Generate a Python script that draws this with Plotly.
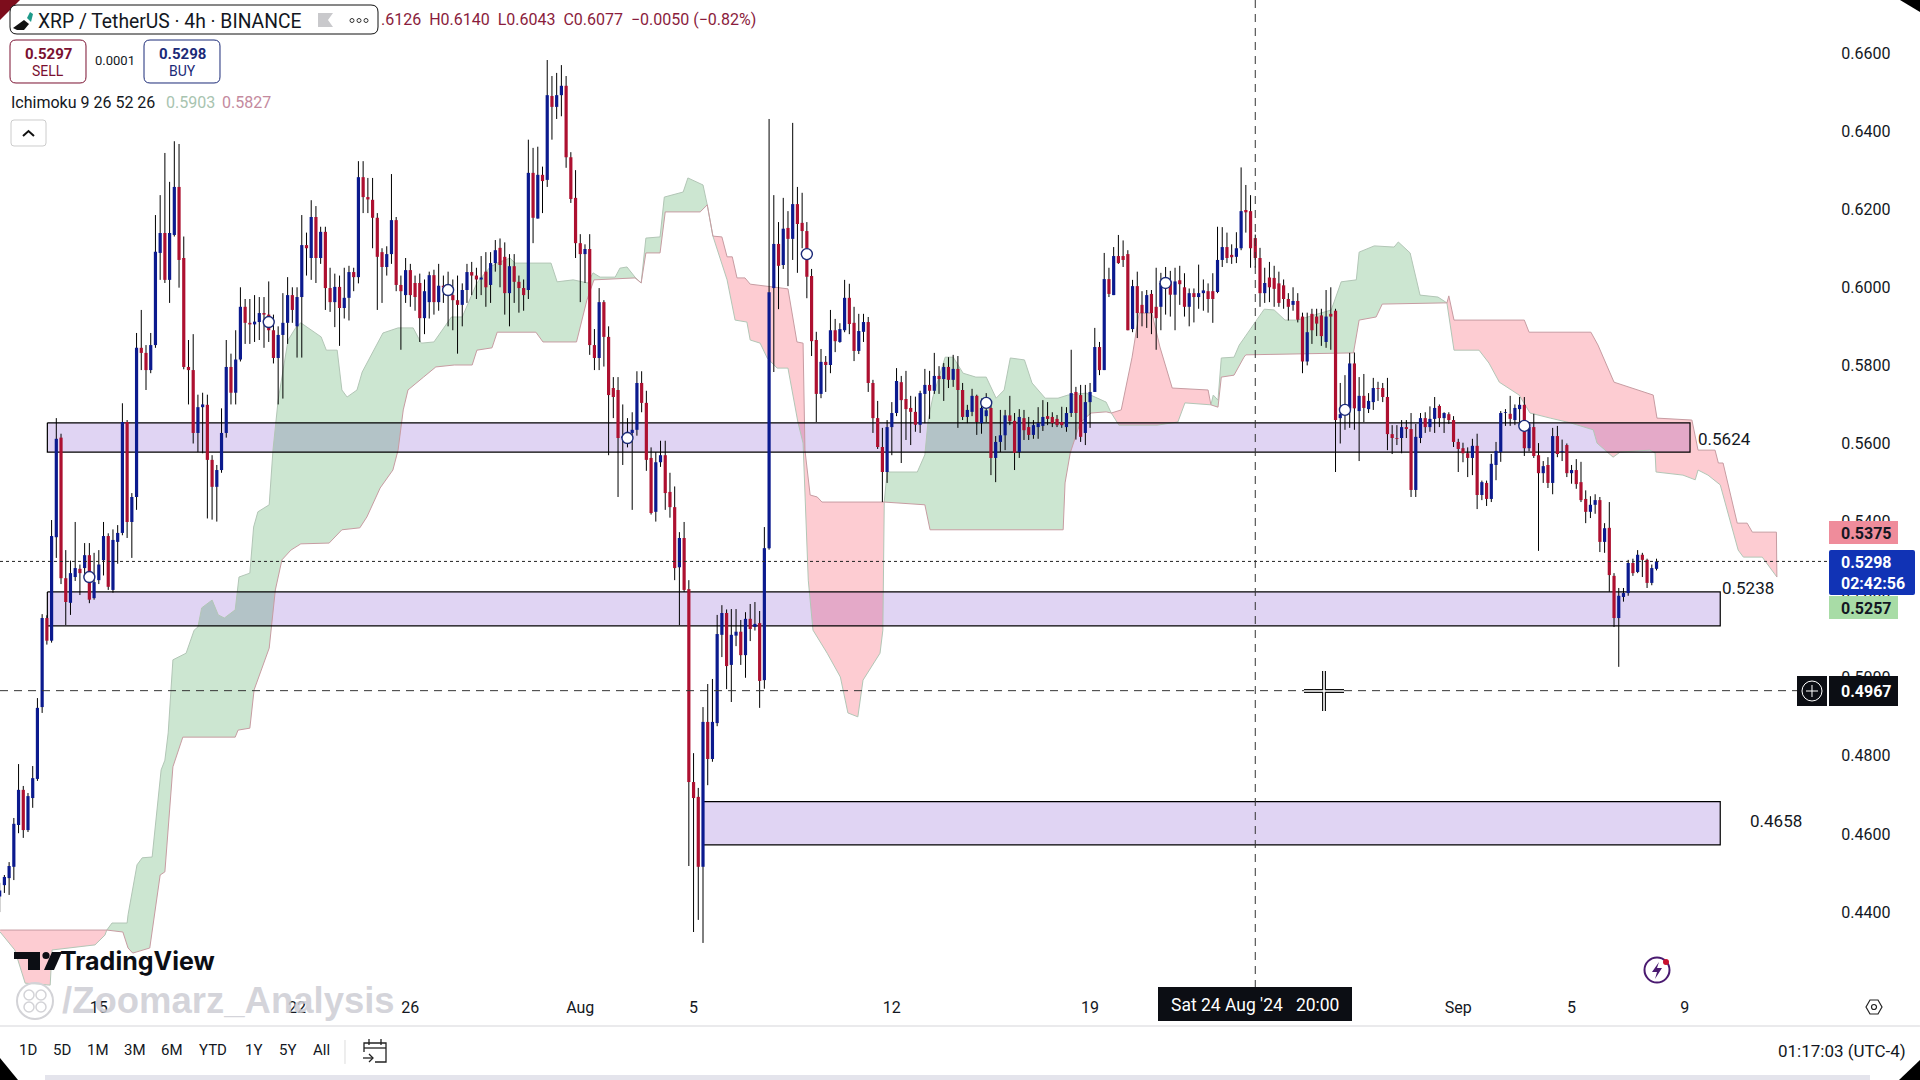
import pandas as pd
import plotly.graph_objects as go

# --- candles, 4h bars ---
first_bar = "2024-07-11 12:00"

open_prices = [
    0.4440,
    0.4469, 0.4487, 0.4516, 0.4623, 0.4713, 0.4610, 0.4692, 0.4741, 0.4925, 0.5153,
    0.5095, 0.5360, 0.5615, 0.5255, 0.5192, 0.5258, 0.5279, 0.5281, 0.5314, 0.5204,
    0.5250, 0.5301, 0.5363, 0.5225, 0.5348, 0.5371, 0.5655, 0.5399, 0.5463, 0.5845,
    0.5832, 0.5788, 0.5852, 0.6088, 0.6139, 0.6019, 0.6134, 0.6257, 0.6075, 0.5796,
    0.5788, 0.5627, 0.5693, 0.5699, 0.5558, 0.5489, 0.5532, 0.5627, 0.5796, 0.5730,
    0.5815, 0.5950, 0.5909, 0.5905, 0.5911, 0.5934, 0.5930, 0.5890, 0.5819, 0.5878,
    0.5909, 0.5980, 0.5900, 0.5975, 0.6108, 0.6075, 0.6180, 0.6075, 0.6142, 0.5998,
    0.5962, 0.6001, 0.5947, 0.5973, 0.6039, 0.6026, 0.6282, 0.6231, 0.6224, 0.6178,
    0.6090, 0.6052, 0.6085, 0.6172, 0.6006, 0.5980, 0.6044, 0.6011, 0.6011, 0.5921,
    0.5962, 0.6031, 0.5962, 0.6004, 0.6000, 0.5980, 0.5967, 0.5955, 0.5993, 0.6039,
    0.6030, 0.6020, 0.6040, 0.6006, 0.6062, 0.6101, 0.6078, 0.5985, 0.6054, 0.6014,
    0.5998, 0.5993, 0.6293, 0.6176, 0.6288, 0.6275, 0.6490, 0.6462, 0.6492, 0.6516,
    0.6333, 0.6229, 0.6113, 0.6085, 0.6098, 0.5852, 0.5819, 0.5962, 0.5873, 0.5742,
    0.5737, 0.5614, 0.5618, 0.5627, 0.5635, 0.5755, 0.5704, 0.5563, 0.5425, 0.5552,
    0.5570, 0.5476, 0.5437, 0.5283, 0.5358, 0.5227, 0.4733, 0.4695, 0.4516, 0.4887,
    0.4792, 0.4884, 0.5110, 0.5166, 0.5033, 0.5108, 0.5118, 0.5058, 0.5151, 0.5130,
    0.5140, 0.4994, 0.5332, 0.5998, 0.6111, 0.6057, 0.6152, 0.6124, 0.6213, 0.6165,
    0.6144, 0.6029, 0.5865, 0.5727, 0.5809, 0.5801, 0.5890, 0.5860, 0.5890, 0.5973,
    0.5909, 0.5837, 0.5886, 0.5911, 0.5755, 0.5665, 0.5591, 0.5527, 0.5642, 0.5678,
    0.5757, 0.5714, 0.5691, 0.5681, 0.5648, 0.5727, 0.5750, 0.5735, 0.5773, 0.5765,
    0.5796, 0.5763, 0.5791, 0.5737, 0.5668, 0.5681, 0.5722, 0.5652, 0.5670, 0.5691,
    0.5563, 0.5604, 0.5621, 0.5672, 0.5658, 0.5578, 0.5665, 0.5642, 0.5622, 0.5642,
    0.5645, 0.5670, 0.5668, 0.5663, 0.5655, 0.5642, 0.5678, 0.5732, 0.5724, 0.5627,
    0.5706, 0.5732, 0.5847, 0.5788, 0.6021, 0.5980, 0.6080, 0.6080, 0.6085, 0.5893,
    0.6003, 0.5955, 0.5934, 0.5983, 0.5950, 0.5950, 0.6000, 0.6015, 0.5981, 0.6018,
    0.6000, 0.5950, 0.5985, 0.5975, 0.5985, 0.5990, 0.5990, 0.5988, 0.6070, 0.6103,
    0.6083, 0.6078, 0.6100, 0.6198, 0.6195, 0.6126, 0.6075, 0.5985, 0.6025, 0.6024,
    0.6010, 0.6005, 0.5970, 0.5955, 0.5965, 0.5925, 0.5810, 0.5932, 0.5925, 0.5928,
    0.5860, 0.5932, 0.5940, 0.5665, 0.5680, 0.5690, 0.5805, 0.5683, 0.5722, 0.5688,
    0.5706, 0.5742, 0.5742, 0.5719, 0.5624, 0.5614, 0.5614, 0.5642, 0.5637, 0.5481,
    0.5614, 0.5665, 0.5642, 0.5663, 0.5696, 0.5665, 0.5675, 0.5660, 0.5604, 0.5588,
    0.5575, 0.5563, 0.5594, 0.5468, 0.5499, 0.5458, 0.5545, 0.5578, 0.5678, 0.5676,
    0.5660, 0.5688, 0.5699, 0.5588, 0.5642, 0.5570, 0.5524, 0.5545, 0.5499, 0.5619,
    0.5578, 0.5596, 0.5524, 0.5532, 0.5501, 0.5458, 0.5425, 0.5443, 0.5455, 0.5348,
    0.5384, 0.5261, 0.5153, 0.5207, 0.5217, 0.5294, 0.5271, 0.5315, 0.5302, 0.5243,
    0.5279,
]
close_prices = [
    0.4455,
    0.4490, 0.4518, 0.4626, 0.4713, 0.4610, 0.4697, 0.4743, 0.4923, 0.5153, 0.5095,
    0.5363, 0.5612, 0.5255, 0.5194, 0.5268, 0.5281, 0.5268, 0.5314, 0.5200, 0.5245,
    0.5290, 0.5363, 0.5233, 0.5353, 0.5371, 0.5655, 0.5399, 0.5463, 0.5845, 0.5832,
    0.5788, 0.5852, 0.6091, 0.6139, 0.6019, 0.6139, 0.6257, 0.6070, 0.5796, 0.5788,
    0.5627, 0.5693, 0.5700, 0.5558, 0.5489, 0.5532, 0.5627, 0.5796, 0.5730, 0.5815,
    0.5950, 0.5909, 0.5905, 0.5912, 0.5934, 0.5930, 0.5890, 0.5819, 0.5878, 0.5909,
    0.5980, 0.5942, 0.5975, 0.6108, 0.6100, 0.6180, 0.6075, 0.6142, 0.5998, 0.5962,
    0.6001, 0.5947, 0.5973, 0.6039, 0.6026, 0.6282, 0.6231, 0.6225, 0.6178, 0.6078,
    0.6052, 0.6085, 0.6172, 0.6006, 0.5990, 0.6044, 0.5980, 0.5975, 0.5921, 0.5990,
    0.6031, 0.5962, 0.6004, 0.6000, 0.5985, 0.5967, 0.5955, 0.5993, 0.6039, 0.6030,
    0.6020, 0.6025, 0.6000, 0.6062, 0.6095, 0.6057, 0.5985, 0.6054, 0.6014, 0.5998,
    0.5980, 0.6293, 0.6178, 0.6288, 0.6272, 0.6492, 0.6462, 0.6492, 0.6516, 0.6333,
    0.6226, 0.6113, 0.6085, 0.6098, 0.5852, 0.5819, 0.5962, 0.5873, 0.5724, 0.5719,
    0.5614, 0.5618, 0.5630, 0.5635, 0.5755, 0.5704, 0.5558, 0.5422, 0.5552, 0.5570,
    0.5473, 0.5437, 0.5281, 0.5358, 0.5225, 0.4733, 0.4692, 0.4516, 0.4887, 0.4792,
    0.4887, 0.5112, 0.5166, 0.5030, 0.5110, 0.5118, 0.5058, 0.5151, 0.5125, 0.5138,
    0.4992, 0.5332, 0.5987, 0.6111, 0.6055, 0.6150, 0.6124, 0.6213, 0.6162, 0.6144,
    0.6027, 0.5862, 0.5727, 0.5809, 0.5801, 0.5890, 0.5862, 0.5893, 0.5973, 0.5906,
    0.5837, 0.5888, 0.5911, 0.5755, 0.5665, 0.5591, 0.5527, 0.5642, 0.5678, 0.5760,
    0.5711, 0.5688, 0.5681, 0.5648, 0.5729, 0.5750, 0.5735, 0.5773, 0.5765, 0.5796,
    0.5763, 0.5791, 0.5737, 0.5668, 0.5686, 0.5722, 0.5655, 0.5691, 0.5685, 0.5563,
    0.5604, 0.5621, 0.5672, 0.5657, 0.5576, 0.5668, 0.5634, 0.5622, 0.5647, 0.5652,
    0.5668, 0.5663, 0.5652, 0.5647, 0.5647, 0.5678, 0.5729, 0.5678, 0.5617, 0.5706,
    0.5732, 0.5847, 0.5788, 0.6021, 0.5983, 0.6080, 0.6062, 0.6070, 0.5890, 0.6003,
    0.5934, 0.5934, 0.5980, 0.5934, 0.5921, 0.6011, 0.6010, 0.5981, 0.6015, 0.6008,
    0.5950, 0.5985, 0.5975, 0.5985, 0.5992, 0.5970, 0.5970, 0.6070, 0.6103, 0.6075,
    0.6077, 0.6100, 0.6195, 0.6192, 0.6100, 0.6075, 0.5985, 0.6011, 0.6000, 0.5996,
    0.5960, 0.5970, 0.5950, 0.5965, 0.5917, 0.5810, 0.5885, 0.5890, 0.5907, 0.5875,
    0.5925, 0.5925, 0.5660, 0.5675, 0.5690, 0.5805, 0.5690, 0.5722, 0.5691, 0.5709,
    0.5742, 0.5740, 0.5719, 0.5624, 0.5614, 0.5612, 0.5642, 0.5637, 0.5481, 0.5617,
    0.5665, 0.5642, 0.5663, 0.5691, 0.5665, 0.5678, 0.5660, 0.5604, 0.5586, 0.5575,
    0.5563, 0.5594, 0.5468, 0.5501, 0.5458, 0.5548, 0.5581, 0.5678, 0.5680, 0.5663,
    0.5691, 0.5699, 0.5588, 0.5642, 0.5568, 0.5524, 0.5542, 0.5499, 0.5619, 0.5573,
    0.5580, 0.5524, 0.5532, 0.5496, 0.5455, 0.5425, 0.5443, 0.5455, 0.5348, 0.5383,
    0.5263, 0.5153, 0.5210, 0.5217, 0.5294, 0.5268, 0.5315, 0.5302, 0.5243, 0.5281,
    0.5298,
]
high_prices = [
    0.4475,
    0.4495, 0.4528, 0.4641, 0.4779, 0.4723, 0.4705, 0.4774, 0.4948, 0.5163, 0.5160,
    0.5404, 0.5665, 0.5625, 0.5327, 0.5300, 0.5399, 0.5290, 0.5345, 0.5345, 0.5320,
    0.5327, 0.5399, 0.5370, 0.5380, 0.5391, 0.5703, 0.5660, 0.5473, 0.5883, 0.5942,
    0.5852, 0.5883, 0.6185, 0.6236, 0.6344, 0.6270, 0.6374, 0.6367, 0.6130, 0.5865,
    0.5880, 0.5725, 0.5730, 0.5725, 0.5570, 0.5545, 0.5690, 0.5865, 0.5830, 0.5890,
    0.6000, 0.5970, 0.5970, 0.5980, 0.5975, 0.5975, 0.6015, 0.5930, 0.5900, 0.5985,
    0.6026, 0.6000, 0.6000, 0.6185, 0.6140, 0.6223, 0.6208, 0.6155, 0.6155, 0.6050,
    0.6035, 0.6030, 0.6050, 0.6055, 0.6050, 0.6323, 0.6323, 0.6280, 0.6280, 0.6190,
    0.6100, 0.6105, 0.6290, 0.6180, 0.6030, 0.6075, 0.6060, 0.6030, 0.6035, 0.6020,
    0.6040, 0.6045, 0.6060, 0.6030, 0.6040, 0.6020, 0.6030, 0.6010, 0.6060, 0.6065,
    0.6050, 0.6080, 0.6090, 0.6090, 0.6121, 0.6125, 0.6115, 0.6085, 0.6085, 0.6030,
    0.6020, 0.6378, 0.6357, 0.6360, 0.6309, 0.6582, 0.6541, 0.6549, 0.6569, 0.6541,
    0.6346, 0.6300, 0.6136, 0.6110, 0.6136, 0.5893, 0.5998, 0.5967, 0.5900, 0.5770,
    0.5770, 0.5700, 0.5665, 0.5680, 0.5785, 0.5785, 0.5735, 0.5590, 0.5578, 0.5607,
    0.5607, 0.5525, 0.5490, 0.5373, 0.5399, 0.5250, 0.4807, 0.4718, 0.4925, 0.4984,
    0.4997, 0.5161, 0.5186, 0.5175, 0.5176, 0.5176, 0.5148, 0.5168, 0.5189, 0.5194,
    0.5171, 0.5386, 0.6431, 0.6236, 0.6167, 0.6229, 0.6195, 0.6421, 0.6257, 0.6242,
    0.6167, 0.6047, 0.5886, 0.5842, 0.5824, 0.5942, 0.5919, 0.5908, 0.6019, 0.6009,
    0.5950, 0.5932, 0.5932, 0.5924, 0.5763, 0.5709, 0.5640, 0.5660, 0.5706, 0.5793,
    0.5773, 0.5786, 0.5722, 0.5720, 0.5735, 0.5791, 0.5786, 0.5832, 0.5798, 0.5806,
    0.5821, 0.5827, 0.5824, 0.5755, 0.5699, 0.5740, 0.5725, 0.5715, 0.5729, 0.5706,
    0.5619, 0.5686, 0.5686, 0.5722, 0.5678, 0.5688, 0.5686, 0.5668, 0.5660, 0.5693,
    0.5711, 0.5706, 0.5680, 0.5673, 0.5694, 0.5693, 0.5840, 0.5745, 0.5750, 0.5750,
    0.5755, 0.5896, 0.5860, 0.6088, 0.6050, 0.6103, 0.6134, 0.6120, 0.6095, 0.6019,
    0.6040, 0.5990, 0.5993, 0.5993, 0.6050, 0.6037, 0.6052, 0.6042, 0.6050, 0.6055,
    0.6036, 0.5997, 0.5997, 0.6058, 0.6020, 0.6010, 0.6036, 0.6155, 0.6154, 0.6140,
    0.6110, 0.6141, 0.6307, 0.6262, 0.6236, 0.6135, 0.6101, 0.6050, 0.6065, 0.6055,
    0.6040, 0.6020, 0.5985, 0.6000, 0.5985, 0.5935, 0.5935, 0.5945, 0.5945, 0.5945,
    0.5993, 0.6000, 0.5945, 0.5755, 0.5775, 0.5832, 0.5833, 0.5770, 0.5778, 0.5729,
    0.5768, 0.5758, 0.5755, 0.5768, 0.5647, 0.5647, 0.5660, 0.5660, 0.5678, 0.5650,
    0.5678, 0.5680, 0.5695, 0.5719, 0.5700, 0.5680, 0.5680, 0.5670, 0.5612, 0.5602,
    0.5590, 0.5612, 0.5625, 0.5505, 0.5505, 0.5573, 0.5604, 0.5683, 0.5688, 0.5722,
    0.5700, 0.5719, 0.5719, 0.5655, 0.5676, 0.5601, 0.5555, 0.5565, 0.5640, 0.5645,
    0.5610, 0.5600, 0.5545, 0.5560, 0.5553, 0.5480, 0.5465, 0.5470, 0.5463, 0.5396,
    0.5450, 0.5268, 0.5230, 0.5230, 0.5302, 0.5305, 0.5327, 0.5320, 0.5305, 0.5290,
    0.5305,
]
low_prices = [
    0.4400,
    0.4449, 0.4444, 0.4482, 0.4602, 0.4590, 0.4605, 0.4667, 0.4736, 0.4910, 0.5085,
    0.5090, 0.5307, 0.5240, 0.5135, 0.5161, 0.5248, 0.5212, 0.5250, 0.5191, 0.5200,
    0.5240, 0.5262, 0.5225, 0.5218, 0.5292, 0.5365, 0.5358, 0.5307, 0.5430, 0.5788,
    0.5737, 0.5780, 0.5845, 0.6019, 0.6011, 0.5960, 0.6130, 0.5999, 0.5790, 0.5700,
    0.5600, 0.5578, 0.5575, 0.5408, 0.5405, 0.5400, 0.5525, 0.5615, 0.5700, 0.5700,
    0.5810, 0.5855, 0.5855, 0.5860, 0.5865, 0.5845, 0.5860, 0.5805, 0.5700, 0.5715,
    0.5855, 0.5909, 0.5820, 0.5820, 0.6030, 0.6019, 0.6011, 0.6060, 0.5942, 0.5937,
    0.5898, 0.5850, 0.5920, 0.5915, 0.5990, 0.6010, 0.6190, 0.6190, 0.6100, 0.5942,
    0.5960, 0.6030, 0.6060, 0.5990, 0.5840, 0.5960, 0.5950, 0.5940, 0.5860, 0.5880,
    0.5920, 0.5930, 0.5940, 0.5960, 0.5900, 0.5890, 0.5830, 0.5900, 0.5960, 0.5980,
    0.5970, 0.5980, 0.5950, 0.5960, 0.6040, 0.6000, 0.5930, 0.5900, 0.5960, 0.5935,
    0.5940, 0.5970, 0.6113, 0.6176, 0.6190, 0.6257, 0.6378, 0.6431, 0.6438, 0.6306,
    0.6216, 0.6075, 0.5962, 0.6011, 0.5827, 0.5788, 0.5788, 0.5797, 0.5570, 0.5665,
    0.5463, 0.5545, 0.5590, 0.5430, 0.5620, 0.5680, 0.5530, 0.5418, 0.5400, 0.5540,
    0.5430, 0.5410, 0.5250, 0.5135, 0.5220, 0.4518, 0.4349, 0.4380, 0.4321, 0.4725,
    0.4785, 0.4876, 0.5053, 0.4971, 0.4938, 0.5081, 0.5033, 0.5000, 0.5094, 0.5121,
    0.4923, 0.4972, 0.5328, 0.5783, 0.5944, 0.6047, 0.6003, 0.6070, 0.6037, 0.6100,
    0.5972, 0.5824, 0.5655, 0.5716, 0.5732, 0.5780, 0.5834, 0.5858, 0.5885, 0.5880,
    0.5811, 0.5829, 0.5860, 0.5732, 0.5627, 0.5586, 0.5450, 0.5499, 0.5570, 0.5670,
    0.5550, 0.5609, 0.5596, 0.5630, 0.5627, 0.5652, 0.5663, 0.5727, 0.5727, 0.5709,
    0.5742, 0.5745, 0.5640, 0.5660, 0.5652, 0.5670, 0.5622, 0.5625, 0.5655, 0.5519,
    0.5501, 0.5578, 0.5583, 0.5647, 0.5532, 0.5563, 0.5609, 0.5609, 0.5612, 0.5612,
    0.5632, 0.5647, 0.5642, 0.5642, 0.5640, 0.5630, 0.5668, 0.5610, 0.5604, 0.5596,
    0.5640, 0.5732, 0.5775, 0.5788, 0.5975, 0.5980, 0.6060, 0.6052, 0.5890, 0.5885,
    0.5870, 0.5900, 0.5896, 0.5880, 0.5840, 0.5890, 0.5930, 0.5925, 0.5890, 0.5955,
    0.5925, 0.5900, 0.5910, 0.5945, 0.5940, 0.5935, 0.5909, 0.5985, 0.6052, 0.6062,
    0.6060, 0.6062, 0.6095, 0.6140, 0.6050, 0.6050, 0.5950, 0.5960, 0.5962, 0.5950,
    0.5950, 0.5945, 0.5915, 0.5940, 0.5910, 0.5780, 0.5800, 0.5855, 0.5875, 0.5850,
    0.5845, 0.5840, 0.5527, 0.5600, 0.5635, 0.5640, 0.5635, 0.5555, 0.5655, 0.5678,
    0.5686, 0.5709, 0.5706, 0.5583, 0.5573, 0.5596, 0.5575, 0.5614, 0.5463, 0.5463,
    0.5601, 0.5627, 0.5630, 0.5627, 0.5642, 0.5627, 0.5650, 0.5591, 0.5527, 0.5552,
    0.5514, 0.5519, 0.5432, 0.5455, 0.5440, 0.5450, 0.5506, 0.5553, 0.5645, 0.5645,
    0.5647, 0.5652, 0.5568, 0.5580, 0.5563, 0.5325, 0.5499, 0.5486, 0.5470, 0.5565,
    0.5555, 0.5514, 0.5497, 0.5484, 0.5450, 0.5396, 0.5409, 0.5420, 0.5322, 0.5320,
    0.5220, 0.5130, 0.5028, 0.5195, 0.5210, 0.5261, 0.5268, 0.5258, 0.5230, 0.5237,
    0.5275,
]

# --- ichimoku spans; positions are counted in bars from first_bar ---
span_a_pos = [
    0.1, 3.2, 5.4, 10.7, 11.1, 20.2, 22.3, 22.7, 23.8, 27.0, 27.2, 29.1, 30.2, 32.3, 34.2, 35.0, 35.7, 36.7,
    39.5, 41.2, 42.0, 42.8, 45.0, 46.3, 47.6, 49.9, 50.7, 53.0, 53.8, 54.7, 57.1, 57.9, 59.0, 61.1, 62.8, 63.8,
    68.1, 69.2, 71.5, 72.5, 73.6, 75.7, 76.8, 81.2, 84.4, 87.6, 89.3, 92.0, 95.7, 98.0, 101.1, 103.9, 105.4,
    108.1, 109.2, 116.8, 118.1, 121.5, 124.6, 125.7, 127.2, 130.4, 131.4, 132.9, 134.6, 135.9, 136.9, 139.9,
    140.8, 144.8, 145.8, 149.0, 149.9, 151.1, 154.1, 155.8, 158.3, 159.0, 161.1, 162.6, 164.7, 167.0, 169.1,
    170.2, 171.3, 172.3, 175.3, 178.1, 179.7, 181.8, 182.9, 186.5, 187.1, 187.4, 188.0, 194.4, 196.0, 196.7,
    197.7, 200.3, 202.0, 204.1, 206.8, 209.0, 211.1, 212.8, 214.1, 217.1, 218.7, 221.5, 224.2, 226.3, 230.2,
    234.4, 235.5, 237.1, 245.2, 249.6, 251.1, 256.6, 257.1, 258.1, 258.8, 261.5, 262.6, 266.4, 267.9, 270.0,
    272.3, 274.9, 282.1, 284.2, 287.4, 288.0, 291.2, 295.4, 296.3, 298.8, 300.9, 304.7, 306.6, 308.1, 313.4,
    315.5, 317.7, 321.9, 324.2, 328.5, 332.7, 337.6, 338.4, 341.8, 343.3, 349.6, 350.7, 350.9, 356.6, 359.2,
    359.8, 361.9, 364.5, 368.3, 369.4, 373.4, 376.5,
]
span_a_price = [
    0.4349, 0.4303, 0.4218, 0.4213, 0.4303, 0.4316, 0.4341, 0.4354, 0.4372, 0.4372, 0.4393, 0.4521, 0.4539, 0.4541, 0.4764, 0.4789, 0.4859, 0.5046,
    0.5063, 0.5122, 0.5130, 0.5179, 0.5199, 0.5161, 0.5153, 0.5174, 0.5258, 0.5268, 0.5386, 0.5425, 0.5443, 0.5583, 0.5711, 0.5865, 0.5898, 0.5909,
    0.5873, 0.5839, 0.5839, 0.5737, 0.5719, 0.5737, 0.5783, 0.5883, 0.5896, 0.5896, 0.5857, 0.5860, 0.5924, 0.5924, 0.6011, 0.6052, 0.6062,
    0.6075, 0.6062, 0.6062, 0.6014, 0.6019, 0.6011, 0.6037, 0.6026, 0.6026, 0.6049, 0.6052, 0.6026, 0.6011, 0.6126, 0.6129,
    0.6231, 0.6244, 0.6280, 0.6262, 0.6211, 0.6131, 0.6019, 0.5916, 0.5911, 0.5865, 0.5857, 0.5819, 0.5793, 0.5793, 0.5655,
    0.5601, 0.5250, 0.5122, 0.5063, 0.5002, 0.4910, 0.4900, 0.4994, 0.5063, 0.5122, 0.5450, 0.5527, 0.5527, 0.5571, 0.5660,
    0.5719, 0.5821, 0.5821, 0.5780, 0.5770, 0.5770, 0.5716, 0.5737, 0.5819, 0.5814, 0.5755, 0.5716, 0.5716, 0.5724, 0.5729,
    0.5706, 0.5678, 0.5647, 0.5647, 0.5655, 0.5704, 0.5699, 0.5724, 0.5711, 0.5819, 0.5821, 0.5852, 0.5916, 0.5944, 0.5942,
    0.5916, 0.5916, 0.5942, 0.6014, 0.6019, 0.6090, 0.6106, 0.6103, 0.6116, 0.6088, 0.5980, 0.5975, 0.5960, 0.5839, 0.5839,
    0.5806, 0.5757, 0.5724, 0.5678, 0.5665, 0.5653, 0.5635, 0.5601, 0.5565, 0.5578, 0.5583, 0.5576, 0.5527, 0.5519, 0.5507,
    0.5532, 0.5519, 0.5494, 0.5327, 0.5309, 0.5309, 0.5258,
]
span_b_pos = [
    0.1, 21.3, 22.7, 26.1, 27.2, 28.2, 31.8, 34.0, 35.0, 36.7, 38.8, 49.9, 50.5, 53.0, 53.9, 57.1, 58.4, 59.8,
    61.7, 63.8, 69.8, 72.5, 76.3, 77.8, 80.6, 83.3, 84.4, 85.5, 86.5, 89.8, 92.4, 96.3, 100.1, 101.1, 104.3,
    105.4, 113.6, 115.1, 122.2, 124.4, 125.9, 134.6, 135.9, 136.9, 139.9, 141.0, 148.4, 149.9, 151.1, 153.0,
    154.1, 155.2, 156.2, 157.9, 159.0, 167.0, 168.9, 170.2, 170.6, 171.7, 173.2, 174.2, 187.4, 196.0, 197.1,
    225.3, 225.7, 226.8, 228.9, 231.2, 234.4, 235.5, 237.6, 239.9, 241.4, 244.1, 245.8, 248.4, 256.0, 256.6,
    258.1, 258.8, 261.5, 263.6, 264.0, 286.8, 288.0, 291.6, 292.9, 305.8, 306.6, 307.0, 308.1, 323.0, 324.0,
    337.1, 338.6, 342.0, 350.3, 351.1, 358.5, 359.8, 363.4, 364.1, 365.1, 368.1, 370.2, 371.3, 376.4, 376.5,
]
span_b_price = [
    0.4354, 0.4354, 0.4354, 0.4349, 0.4308, 0.4295, 0.4308, 0.4495, 0.4503, 0.4772, 0.4848, 0.4848, 0.4866, 0.4871, 0.4969, 0.5076, 0.5225, 0.5302,
    0.5327, 0.5343, 0.5345, 0.5379, 0.5384, 0.5412, 0.5486, 0.5532, 0.5583, 0.5686, 0.5737, 0.5770, 0.5796, 0.5801, 0.5801, 0.5839, 0.5845,
    0.5885, 0.5885, 0.5860, 0.5860, 0.5967, 0.6019, 0.6024, 0.6011, 0.6088, 0.6088, 0.6193, 0.6193, 0.6211, 0.6131, 0.6129,
    0.6078, 0.6078, 0.6024, 0.6024, 0.6008, 0.5996, 0.5860, 0.5857, 0.5583, 0.5468, 0.5463, 0.5450, 0.5450, 0.5443, 0.5379,
    0.5379, 0.5499, 0.5576, 0.5653, 0.5678, 0.5681, 0.5678, 0.5686, 0.5821, 0.5934, 0.5934, 0.5847, 0.5742, 0.5737, 0.5699,
    0.5693, 0.5770, 0.5775, 0.5821, 0.5827, 0.5832, 0.5916, 0.5924, 0.5957, 0.5960, 0.5960, 0.5978, 0.5916, 0.5916, 0.5885,
    0.5885, 0.5852, 0.5757, 0.5724, 0.5665, 0.5660, 0.5583, 0.5583, 0.5550, 0.5550, 0.5396, 0.5396, 0.5373, 0.5373, 0.5258,
]
# where the spans cross; cloud colour flips at each one
RED_CLOUD = "rgba(245,0,30,0.2)"
GREEN_CLOUD = "rgba(0,130,25,0.2)"
cross_pos = [0.1, 22.7, 149.9, 187.4, 235.5, 256.6, 306.6, 376.5]
cross_colors = [RED_CLOUD, GREEN_CLOUD, RED_CLOUD, GREEN_CLOUD, RED_CLOUD, GREEN_CLOUD, RED_CLOUD]

# --- drawn zones ---
zone_left = [10.1, 10.1, 149.0]
zone_right = [358.1, 364.5, 364.5]
zone_top = [0.5653, 0.5220, 0.4683]
zone_bottom = [0.5578, 0.5133, 0.4572]

# --- small ring markers on the chart ---
ring_bars = [19, 57, 95, 133, 171, 209, 247, 285, 323]
ring_prices = [0.5258, 0.5911, 0.5993, 0.5614, 0.6085, 0.5704, 0.6011, 0.5686, 0.5645]

tick_dates = ["2024-07-15", "2024-07-22", "2024-07-26", "2024-08-01", "2024-08-05", "2024-08-12", "2024-08-19",
              "2024-09-01", "2024-09-05", "2024-09-09"]
tick_labels = ["15", "22", "26", "Aug", "5", "12", "19", "Sep", "5", "9"]

last_price = 0.5298
cursor_price = 0.4967
cursor_time = "2024-08-24 20:00"

# page geometry
PLOT_RIGHT = 1834
PLOT_BOTTOM = 988
FONT = "Roboto"
TEXT = "#131722"
NAVY = "#0b1a8e"
RED = "#ad1030"


def bar_time(pos):
    return (pd.Timestamp(first_bar) + pd.Timedelta(hours=4 * pos)).strftime("%Y-%m-%d %H:%M:%S")


def xp(px):
    return px / PLOT_RIGHT


def yp(py):
    return 1 - py / PLOT_BOTTOM


def add_label(fig, x, y, text, size=15, color=TEXT, anchor="center", bold=False, family=FONT):
    if bold:
        text = f"<b>{text}</b>"
    fig.add_annotation(x=xp(x), y=yp(y), xref="paper", yref="paper", text=text, showarrow=False,
                       xanchor=anchor, yanchor="middle", font=dict(size=size, color=color, family=family),
                       borderpad=0, borderwidth=0)


def add_poly(fig, points, fill=None, line=None, width=1, closed=True):
    path = "M " + " L ".join(f"{xp(x):.6f} {yp(y):.6f}" for x, y in points)
    if closed:
        path += " Z"
    fig.add_shape(type="path", path=path, xref="paper", yref="paper", fillcolor=fill or "rgba(0,0,0,0)",
                  line=dict(color=line or "rgba(0,0,0,0)", width=width))


def add_box(fig, x0, y0, x1, y1, fill=None, line=None, r=0, width=1):
    if r == 0:
        add_poly(fig, [(x0, y0), (x1, y0), (x1, y1), (x0, y1)], fill, line, width)
        return
    path = (f"M {xp(x0 + r):.6f} {yp(y0):.6f} L {xp(x1 - r):.6f} {yp(y0):.6f} "
            f"Q {xp(x1):.6f} {yp(y0):.6f} {xp(x1):.6f} {yp(y0 + r):.6f} L {xp(x1):.6f} {yp(y1 - r):.6f} "
            f"Q {xp(x1):.6f} {yp(y1):.6f} {xp(x1 - r):.6f} {yp(y1):.6f} L {xp(x0 + r):.6f} {yp(y1):.6f} "
            f"Q {xp(x0):.6f} {yp(y1):.6f} {xp(x0):.6f} {yp(y1 - r):.6f} L {xp(x0):.6f} {yp(y0 + r):.6f} "
            f"Q {xp(x0):.6f} {yp(y0):.6f} {xp(x0 + r):.6f} {yp(y0):.6f} Z")
    fig.add_shape(type="path", path=path, xref="paper", yref="paper", fillcolor=fill or "rgba(0,0,0,0)",
                  line=dict(color=line or "rgba(0,0,0,0)", width=width))


def add_circle(fig, cx, cy, r, fill=None, line=None, width=1):
    fig.add_shape(type="circle", xref="paper", yref="paper", x0=xp(cx - r), x1=xp(cx + r), y0=yp(cy + r), y1=yp(cy - r),
                  fillcolor=fill or "rgba(0,0,0,0)", line=dict(color=line or "rgba(0,0,0,0)", width=width))


def cut_span(pos, price, lo, hi):
    return [(p, v) for p, v in zip(pos, price) if lo <= p <= hi]


fig = go.Figure()

# zone fills first, the translucent cloud darkens them where they meet
for x0, x1, top, bottom in zip(zone_left, zone_right, zone_top, zone_bottom):
    fig.add_trace(go.Scatter(x=[bar_time(x0), bar_time(x1), bar_time(x1), bar_time(x0), bar_time(x0)],
                             y=[top, top, bottom, bottom, top], mode="lines", fill="toself",
                             fillcolor="rgb(224,212,243)", line=dict(width=0), hoverinfo="skip"))

for lo, hi, color in zip(cross_pos[:-1], cross_pos[1:], cross_colors):
    top = cut_span(span_a_pos, span_a_price, lo, hi)
    bottom = cut_span(span_b_pos, span_b_price, lo, hi)
    ring = top + bottom[::-1]
    fig.add_trace(go.Scatter(x=[bar_time(p) for p, _ in ring], y=[v for _, v in ring], mode="lines",
                             fill="toself", fillcolor=color, line=dict(width=0), hoverinfo="skip"))
fig.add_trace(go.Scatter(x=[bar_time(p) for p in span_a_pos], y=span_a_price, mode="lines",
                         line=dict(color="#b2c6b6", width=1), hoverinfo="skip"))
fig.add_trace(go.Scatter(x=[bar_time(p) for p in span_b_pos], y=span_b_price, mode="lines",
                         line=dict(color="#c79ca2", width=1), hoverinfo="skip"))

for x0, x1, top, bottom in zip(zone_left, zone_right, zone_top, zone_bottom):
    fig.add_trace(go.Scatter(x=[bar_time(x0), bar_time(x1), bar_time(x1), bar_time(x0), bar_time(x0)],
                             y=[top, top, bottom, bottom, top], mode="lines",
                             line=dict(color="#000000", width=1.2), hoverinfo="skip"))

# wicks, then bodies, all as broken line traces
wick_x, wick_y = [], []
up_x, up_y, down_x, down_y = [], [], [], []
for i, (o, c, h, l) in enumerate(zip(open_prices, close_prices, high_prices, low_prices)):
    t = bar_time(i)
    wick_x += [t, t, None]
    wick_y += [h, l, None]
    if c >= o:
        up_x += [t, t, None]
        up_y += [o, c, None]
    else:
        down_x += [t, t, None]
        down_y += [o, c, None]
fig.add_trace(go.Scatter(x=wick_x, y=wick_y, mode="lines", line=dict(color="#000000", width=1), hoverinfo="skip"))
fig.add_trace(go.Scatter(x=up_x, y=up_y, mode="lines", line=dict(color=NAVY, width=3.2), hoverinfo="skip"))
fig.add_trace(go.Scatter(x=down_x, y=down_y, mode="lines", line=dict(color=RED, width=3.2), hoverinfo="skip"))

fig.add_trace(go.Scatter(x=[bar_time(b) for b in ring_bars], y=ring_prices, mode="markers",
                         marker=dict(size=11, color="#ffffff", line=dict(color="#1b2a78", width=1.4)),
                         hoverinfo="skip"))

# price and cursor lines
fig.add_shape(type="line", xref="paper", yref="y", x0=0, x1=xp(1829), y0=last_price, y1=last_price,
              line=dict(color="#222222", width=1, dash="dot"))
fig.add_shape(type="line", xref="paper", yref="y", x0=0, x1=xp(1797), y0=cursor_price, y1=cursor_price,
              line=dict(color="#333333", width=1, dash="8px,6px"))
fig.add_shape(type="line", xref="x", yref="paper", x0=cursor_time, x1=cursor_time, y0=1, y1=0,
              line=dict(color="#333333", width=1, dash="8px,6px"))

# cross cursor
for width, color in [(4, "#111111"), (1.6, "#ffffff")]:
    add_poly(fig, [(1324, 671), (1324, 711)], None, color, width, closed=False)
    add_poly(fig, [(1304, 691), (1344, 691)], None, color, width, closed=False)

# header
add_poly(fig, [(0, 0), (20, 0), (0, 20)], "#7d0d1c")
add_box(fig, 10, 5, 378, 34, "#ffffff", "#111111", r=7)
add_poly(fig, [(13, 28), (24, 20), (29, 24), (24, 30), (17, 30)], "#111111")
add_poly(fig, [(27, 18), (30, 12), (33, 14), (31, 22)], "#1e9a8a")
add_label(fig, 38, 21, "XRP / TetherUS · 4h · BINANCE", size=19.3, anchor="left")
add_poly(fig, [(318, 13), (333, 13), (328, 20), (333, 27), (318, 27)], "#c9c9cc")
for dot_x in (352, 359, 366):
    add_circle(fig, dot_x, 20.5, 2, "#ffffff", "#333333", 1)
add_label(fig, 381, 20, ".6126&nbsp;&nbsp;H0.6140&nbsp;&nbsp;L0.6043&nbsp;&nbsp;C0.6077&nbsp;&nbsp;−0.0050&nbsp;(−0.82%)",
          size=16, color="#8a1c3c", anchor="left")

add_box(fig, 10, 40, 86, 83, "#ffffff", "#7a1030", r=6)
add_label(fig, 48, 54, "0.5297", size=15, color="#7a1030", bold=True)
add_label(fig, 48, 71, "SELL", size=14, color="#7a1030")
add_label(fig, 115, 61, "0.0001", size=13)
add_box(fig, 144, 40, 220, 83, "#ffffff", "#1b2a78", r=6)
add_label(fig, 182, 54, "0.5298", size=15, color="#1b2a78", bold=True)
add_label(fig, 182, 71, "BUY", size=14, color="#1b2a78")

add_label(fig, 11, 102, "Ichimoku 9 26 52 26", size=16, anchor="left")
add_label(fig, 166, 102, "0.5903", size=16, color="#a8c4b0", anchor="left")
add_label(fig, 222, 102, "0.5827", size=16, color="#c48a9e", anchor="left")
add_box(fig, 11, 120, 46, 146, "#ffffff", "#cccccc", r=3)
add_poly(fig, [(23, 136), (28.5, 131), (34, 136)], None, "#111111", 2, closed=False)

# levels written next to the zones
add_label(fig, 1698, 439, "0.5624", size=17, anchor="left")
add_label(fig, 1722, 588, "0.5238", size=17, anchor="left")
add_label(fig, 1750, 821, "0.4658", size=17, anchor="left")

# price tags on the scale
add_box(fig, 1829, 521, 1898, 544, "#ef8c9b")
add_label(fig, 1841, 533, "0.5375", size=16, anchor="left", bold=True)
add_box(fig, 1829, 550, 1915, 595, "#1133b5", r=2)
add_label(fig, 1841, 562, "0.5298", size=16, color="#ffffff", anchor="left", bold=True)
add_label(fig, 1841, 583, "02:42:56", size=16, color="#ffffff", anchor="left", bold=True)
add_box(fig, 1829, 596, 1898, 619, "#a8dca6")
add_label(fig, 1841, 608, "0.5257", size=16, anchor="left", bold=True)
add_box(fig, 1829, 676, 1898, 706, "#0c0e14")
add_label(fig, 1841, 691, "0.4967", size=16, color="#ffffff", anchor="left", bold=True)
add_box(fig, 1797, 676, 1827, 706, "#0c0e14")
add_circle(fig, 1812, 691, 10, None, "#ffffff", 1)
add_poly(fig, [(1812, 685), (1812, 697)], None, "#ffffff", 1, closed=False)
add_poly(fig, [(1806, 691), (1818, 691)], None, "#ffffff", 1, closed=False)

# time axis cursor tag
add_box(fig, 1158, 987, 1352, 1021, "#0c0e14")
add_label(fig, 1255, 1005, "Sat 24 Aug '24&nbsp;&nbsp;&nbsp;20:00", size=17.5, color="#ffffff")

# logo and watermark
add_poly(fig, [(14, 952), (40, 952), (40, 970), (28, 970), (28, 959), (14, 959)], "#0c0e14")
add_circle(fig, 46, 955.5, 3.6, "#0c0e14")
add_poly(fig, [(44, 970), (52, 952), (62, 952), (54, 970)], "#0c0e14")
add_label(fig, 60, 961, "TradingView", size=25, color="#0c0e14", anchor="left", bold=True, family="Inter")
add_circle(fig, 35, 1001, 18, "rgba(255,255,255,0.4)", "#d3d3d7", 2)
for cx, cy in [(29, 995), (41, 995), (29, 1007), (41, 1007)]:
    add_circle(fig, cx, cy, 5, None, "#d3d3d7", 1.5)
add_label(fig, 62, 1000, "/Zoomarz_Analysis", size=36.5, color="rgba(205,205,212,0.85)", anchor="left", bold=True,
          family="Liberation Sans")

# lightning badge and gear
add_circle(fig, 1657, 970, 12.5, "#ffffff", "#4a1a70", 2)
add_poly(fig, [(1659, 962), (1652, 972), (1657, 972), (1655, 979), (1662, 968), (1657, 968)], "#4a1a70")
add_circle(fig, 1666, 962, 3, "#c8102e")
add_poly(fig, [(1866, 1007), (1870, 1000), (1878, 1000), (1882, 1007), (1878, 1014), (1870, 1014)], None, "#222222", 1.2)
add_circle(fig, 1874, 1007, 2.5, None, "#222222", 1.2)

# bottom toolbar
add_poly(fig, [(0, 1026), (1920, 1026)], None, "#d6d6d9", 1.2, closed=False)
for label_x, text in zip([28, 62, 98, 135, 172, 213, 253, 287, 321],
                         ["1D", "5D", "1M", "3M", "6M", "YTD", "1Y", "5Y", "All"]):
    add_label(fig, label_x, 1050, text, size=15)
add_poly(fig, [(345, 1040), (345, 1064)], None, "#dddddd", 1, closed=False)
add_poly(fig, [(364, 1052), (364, 1043), (386, 1043), (386, 1062), (375, 1062)], None, "#222222", 1.3, closed=False)
add_poly(fig, [(364, 1048), (386, 1048)], None, "#222222", 1.3, closed=False)
add_poly(fig, [(369, 1039), (369, 1045)], None, "#222222", 1.3, closed=False)
add_poly(fig, [(381, 1039), (381, 1045)], None, "#222222", 1.3, closed=False)
add_poly(fig, [(363, 1058), (373, 1058)], None, "#222222", 1.3, closed=False)
add_poly(fig, [(369, 1054), (373, 1058), (369, 1062)], None, "#222222", 1.3, closed=False)
add_label(fig, 1906, 1051, "01:17:03 (UTC-4)", size=17, anchor="right")

# screen edge seen in the video frame
add_box(fig, 45, 1075, 1870, 1080, "#e4e4ec")
add_poly(fig, [(0, 1058), (18, 1080), (0, 1080)], "#000000")
add_poly(fig, [(1920, 1060), (1899, 1080), (1920, 1080)], "#000000")
add_poly(fig, [(1900, 0), (1920, 0), (1920, 12)], "#000000")

fig.update_layout(
    width=1920,
    height=1080,
    margin=dict(l=0, r=1920 - PLOT_RIGHT, t=0, b=1080 - PLOT_BOTTOM, pad=0),
    paper_bgcolor="#ffffff",
    plot_bgcolor="#ffffff",
    showlegend=False,
    hovermode=False,
    font=dict(family=FONT, color=TEXT),
    xaxis=dict(
        type="date",
        range=[bar_time(0.07), bar_time(388.6)],
        tickmode="array",
        tickvals=tick_dates,
        ticktext=tick_labels,
        tickangle=0,
        tickfont=dict(size=16, family=FONT, color=TEXT),
        ticks="outside",
        ticklen=5,
        tickcolor="rgba(0,0,0,0)",
        showgrid=False,
        zeroline=False,
        showline=False,
    ),
    yaxis=dict(
        side="right",
        range=[0.42056, 0.67357],
        tick0=0.44,
        dtick=0.02,
        tickformat=".4f",
        tickfont=dict(size=16, family=FONT, color=TEXT),
        ticks="outside",
        ticklen=3,
        tickcolor="rgba(0,0,0,0)",
        showgrid=False,
        zeroline=False,
        showline=False,
    ),
)

fig.write_html("out.html", config={"displayModeBar": False}, post_script="document.body.style.margin='0';")
